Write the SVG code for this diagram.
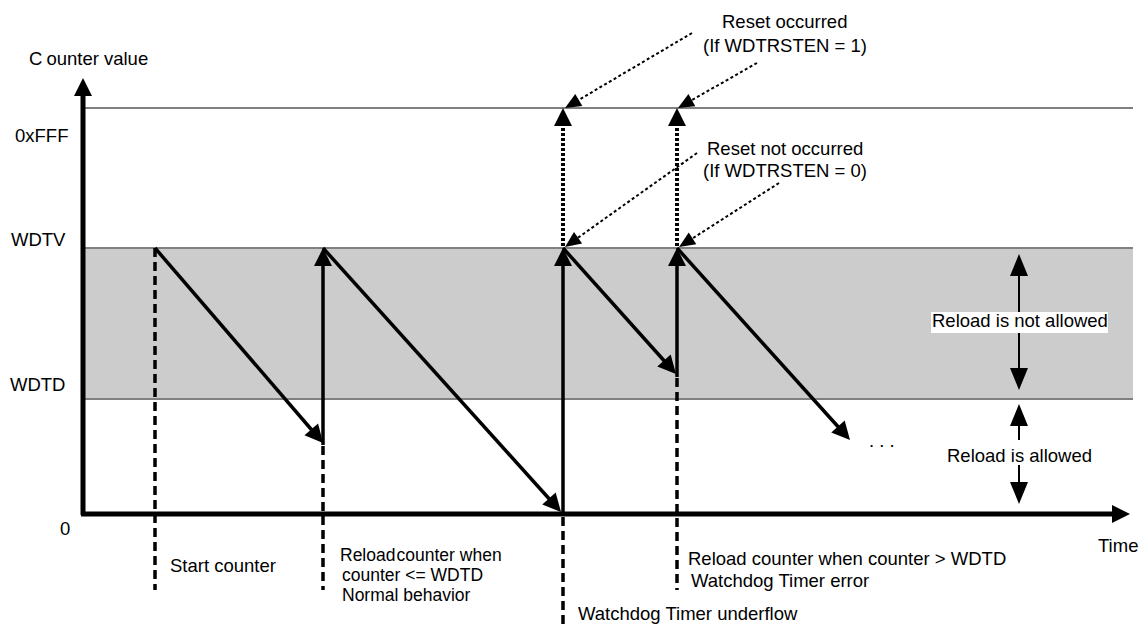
<svg xmlns="http://www.w3.org/2000/svg" width="1142" height="624" viewBox="0 0 1142 624">
<style>
text{font-family:"Liberation Sans",Arial,sans-serif;font-size:18.5px;fill:#000}
.sm{font-size:17.5px}
.grid{stroke:#808080;stroke-width:2;fill:none}
.axis{stroke:#000;stroke-width:5;fill:none}
.saw{stroke:#000;stroke-width:3.5;fill:none}
.dash{stroke:#000;stroke-width:3.5;stroke-dasharray:9 5;fill:none}
.dots{stroke:#000;stroke-width:4;stroke-dasharray:3 2;fill:none}
.call{stroke:#000;stroke-width:2;stroke-dasharray:3 2.5;fill:none}
.thin{stroke:#000;stroke-width:2;fill:none}
</style>
<defs>
<marker id="ah" markerUnits="userSpaceOnUse" markerWidth="20" markerHeight="20" refX="12" refY="9" orient="auto" overflow="visible"><path d="M0,0 L18,9 L0,18 Z" fill="#000"/></marker>
<marker id="ahs" markerUnits="userSpaceOnUse" markerWidth="18" markerHeight="16" refX="10" refY="7" orient="auto" overflow="visible"><path d="M0,0 L16,7 L0,14 Z" fill="#000"/></marker>
<marker id="ahd" markerUnits="userSpaceOnUse" markerWidth="24" markerHeight="20" refX="14" refY="9" orient="auto" overflow="visible"><path d="M0,0 L22,9 L0,18 Z" fill="#000"/></marker>
</defs>

<g id="bands">
<rect x="85" y="248" width="1048" height="151" fill="#cccccc"/>
<line class="grid" x1="85" y1="108" x2="1133" y2="108"/>
<line class="grid" x1="85" y1="248" x2="1133" y2="248"/>
<line class="grid" x1="85" y1="399" x2="1133" y2="399"/>
</g>

<g id="axes">
<line class="axis" x1="83" y1="515" x2="83" y2="84" marker-end="url(#ah)"/>
<line class="axis" x1="81" y1="514" x2="1124" y2="514" marker-end="url(#ah)"/>
</g>

<g id="labels">
<text x="29" y="65">C<tspan dx="4">ounter value</tspan></text>
<text x="15" y="142">0xFFF</text>
<text x="11" y="246">WDTV</text>
<text x="10" y="391">WDTD</text>
<text x="60" y="535">0</text>
<text x="1098" y="552">Time</text>
</g>

<g id="connectors">
<line class="dash" x1="155" y1="248" x2="155" y2="590"/>
<line class="dash" x1="323" y1="446" x2="323" y2="590"/>
<line class="dash" x1="563" y1="517" x2="563" y2="624"/>
<line class="dash" x1="677" y1="378" x2="677" y2="590"/>
<line class="saw" x1="155" y1="248" x2="319.1" y2="438.5" marker-end="url(#ah)"/>
<line class="saw" x1="323" y1="445" x2="323" y2="254" marker-end="url(#ah)"/>
<line class="saw" x1="323" y1="248" x2="557" y2="507.5" marker-end="url(#ah)"/>
<line class="saw" x1="563" y1="513" x2="563" y2="254" marker-end="url(#ah)"/>
<line class="saw" x1="563" y1="248" x2="672" y2="369.5" marker-end="url(#ah)"/>
<line class="saw" x1="677" y1="377" x2="677" y2="254" marker-end="url(#ah)"/>
<line class="saw" x1="677" y1="248" x2="846" y2="435.5" marker-end="url(#ah)"/>
<line class="dots" x1="563" y1="246" x2="563" y2="114" marker-end="url(#ah)"/>
<line class="dots" x1="677" y1="246" x2="677" y2="114" marker-end="url(#ah)"/>
<line class="call" x1="692" y1="33" x2="570.2" y2="105" marker-end="url(#ahs)"/>
<line class="call" x1="757" y1="63" x2="683.2" y2="105" marker-end="url(#ahs)"/>
<line class="call" x1="697" y1="153" x2="569.9" y2="243.5" marker-end="url(#ahs)"/>
<line class="call" x1="779" y1="183" x2="684.1" y2="243.8" marker-end="url(#ahs)"/>
<line class="thin" x1="1019" y1="322" x2="1019" y2="262" marker-end="url(#ahd)"/>
<line class="thin" x1="1019" y1="322" x2="1019" y2="382" marker-end="url(#ahd)"/>
<line class="thin" x1="1019" y1="455" x2="1019" y2="412" marker-end="url(#ahd)"/>
<line class="thin" x1="1019" y1="455" x2="1019" y2="496" marker-end="url(#ahd)"/>
</g>

<g id="region-labels">
<rect x="931" y="312" width="177" height="21" fill="#fff"/>
<text x="932" y="327">Reload is not allowed</text>
<rect x="944" y="440" width="152" height="25" fill="#fff"/>
<text x="947" y="462">Reload is allowed</text>
</g>

<g id="reset-labels">
<text x="722" y="28">Reset occurred</text>
<text x="703" y="52">(If WDTRSTEN = 1)</text>
<text x="707" y="155">Reset not occurred</text>
<text x="703" y="177">(If WDTRSTEN = 0)</text>
</g>

<g id="event-labels">
<text x="170" y="572">Start counter</text>
<text class="sm" x="340" y="561">Reload<tspan dx="1">counter</tspan><tspan dx="5">when</tspan></text>
<text class="sm" x="342" y="581">counter &lt;= WDTD</text>
<text class="sm" x="342" y="601">Normal behavior</text>
<text x="578" y="620">Watchdog Timer underflow</text>
<text x="688" y="565">Reload counter when counter &gt; WDTD</text>
<text x="691" y="587">Watchdog Timer error</text>
<text x="869" y="447">. . .</text>
</g>
</svg>
